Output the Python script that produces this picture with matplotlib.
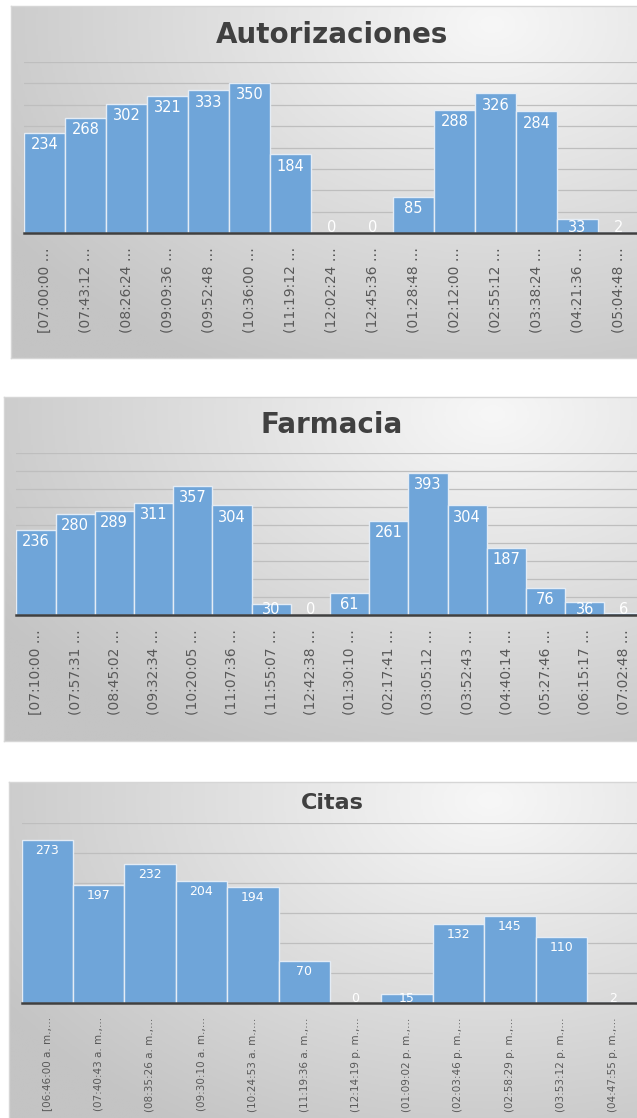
import numpy as np
import matplotlib.pyplot as plt
from matplotlib.colors import LinearSegmentedColormap

W, H = 637, 1118

# Autorizaciones
aut_labels = ['[07:00:00 …', '(07:43:12 …', '(08:26:24 …', '(09:09:36 …', '(09:52:48 …',
              '(10:36:00 …', '(11:19:12 …', '(12:02:24 …', '(12:45:36 …', '(01:28:48 …',
              '(02:12:00 …', '(02:55:12 …', '(03:38:24 …', '(04:21:36 …', '(05:04:48 …']
aut_values = [234, 268, 302, 321, 333, 350, 184, 0, 0, 85, 288, 326, 284, 33, 2]

# Farmacia
far_labels = ['[07:10:00 …', '(07:57:31 …', '(08:45:02 …', '(09:32:34 …', '(10:20:05 …',
              '(11:07:36 …', '(11:55:07 …', '(12:42:38 …', '(01:30:10 …', '(02:17:41 …',
              '(03:05:12 …', '(03:52:43 …', '(04:40:14 …', '(05:27:46 …', '(06:15:17 …',
              '(07:02:48 …']
far_values = [236, 280, 289, 311, 357, 304, 30, 0, 61, 261, 393, 304, 187, 76, 36, 6]

# Citas
cit_labels = ['[06:46:00 a. m.,…', '(07:40:43 a. m.,…', '(08:35:26 a. m.,…', '(09:30:10 a. m.,…',
              '(10:24:53 a. m.,…', '(11:19:36 a. m.,…', '(12:14:19 p. m.,…', '(01:09:02 p. m.,…',
              '(02:03:46 p. m.,…', '(02:58:29 p. m.,…', '(03:53:12 p. m.,…', '(04:47:55 p. m.,…']
cit_values = [273, 197, 232, 204, 194, 70, 0, 15, 132, 145, 110, 2]

fig = plt.figure(figsize=(W / 100, H / 100), dpi=100)


def rect(x0, y0, x1, y1):
    # pixel box (desde arriba) -> fracciones de figura
    return [x0 / W, 1 - y1 / H, (x1 - x0) / W, (y1 - y0) / H]


bg_cmap = LinearSegmentedColormap.from_list('bg', ['#c4c4c4', '#f7f7f7'])
yy, xx = np.mgrid[0:1:200j, 0:1:300j]
glow = 1 - np.clip(np.hypot((xx - 0.75) * 1.1, (yy - 0.05) * 0.9), 0, 1)


def draw_panel(box, plot, title, title_y, title_size, labels, values, ymax, tick_size, value_size):
    bg = fig.add_axes(rect(*box))
    bg.imshow(glow, cmap=bg_cmap, aspect='auto', vmin=0, vmax=1)
    bg.set_xticks([])
    bg.set_yticks([])
    for s in bg.spines.values():
        s.set_color('#d6d6d6')
        s.set_linewidth(1)

    fig.text(332 / W, 1 - title_y / H, title, ha='center', va='center',
             fontsize=title_size, fontweight='bold', color='#404040')

    ax = fig.add_axes(rect(*plot))
    ax.patch.set_alpha(0)
    x = np.arange(len(values))
    ax.bar(x, values, width=1, color='#6fa5d9', edgecolor='#e4ecf5', linewidth=1, zorder=2)
    ax.set_xlim(-0.5, len(values) - 0.5)
    ax.set_ylim(0, ymax)
    ax.set_yticks(np.arange(0, ymax + 1, 50))
    ax.yaxis.grid(True, color='#bebebe', linewidth=0.9)
    ax.set_axisbelow(True)
    ax.tick_params(axis='y', length=0, labelleft=False)
    ax.set_xticks(x)
    ax.set_xticklabels(labels, rotation=90)
    ax.tick_params(axis='x', length=0, pad=10, labelsize=tick_size, labelcolor='#595959')
    for side in ['top', 'left', 'right']:
        ax.spines[side].set_visible(False)
    ax.spines['bottom'].set_color('#404040')
    ax.spines['bottom'].set_linewidth(1.8)
    ax.spines['bottom'].set_zorder(3)

    text_h = value_size * 100 / 72 * 0.8
    for i, v in enumerate(values):
        bar_px = ax.transData.transform((0, v))[1] - ax.transData.transform((0, 0))[1]
        if bar_px >= text_h + 7:
            ax.annotate(str(v), (i, v), xytext=(0, -3), textcoords='offset points',
                        ha='center', va='top', color='white', fontsize=value_size, zorder=4)
        else:
            ax.annotate(str(v), (i, 0), xytext=(0, 1), textcoords='offset points',
                        ha='center', va='baseline', color='white', fontsize=value_size, zorder=4)
    return ax


draw_panel((11, 6, 653, 358), (24, 61.7, 639, 233.3), 'Autorizaciones', 35, 20,
           aut_labels, aut_values, 400, 10, 10.5)
draw_panel((4, 397, 656, 741), (16.3, 452.7, 643.5, 615.3), 'Farmacia', 425, 20,
           far_labels, far_values, 450, 10, 10.5)
draw_panel((9, 782, 651, 1130), (21.5, 823.3, 638.3, 1003.3), 'Citas', 803, 16,
           cit_labels, cit_values, 300, 7.5, 9)

fig.savefig('out.png', dpi=100)
